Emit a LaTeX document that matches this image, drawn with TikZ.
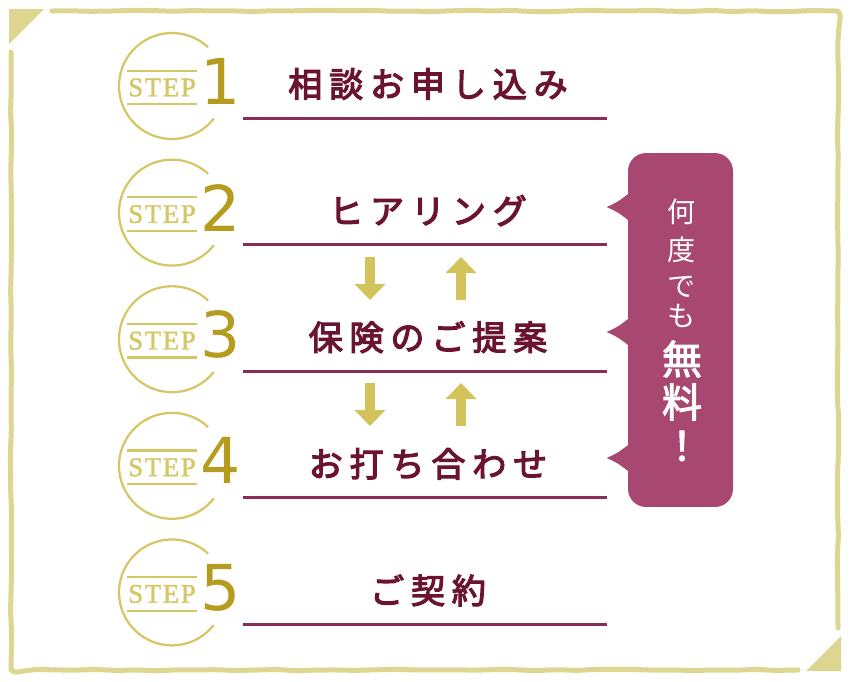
\documentclass[tikz,border=0pt]{standalone}
\usepackage{fontspec}
\newfontfamily\jpfont{Noto Sans CJK JP}
\newfontfamily\jpmed{Noto Sans CJK JP}[FakeBold=2.5]
\newfontfamily\jptitle{Noto Sans CJK JP}[LetterSpace=20,FakeBold=3.5]
\newfontfamily\stepfont{Liberation Serif}[LetterSpace=6,FakeBold=1.5]
\newfontfamily\numfont{DejaVu Sans}
\usetikzlibrary{arrows.meta,calc,decorations.pathmorphing}
\definecolor{framecol}{HTML}{DDD690}
\definecolor{stepcol}{HTML}{D5C766}
\definecolor{numcol}{HTML}{B59C1E}
\definecolor{arrowcol}{HTML}{D2C35A}
\definecolor{titlecol}{HTML}{6B1431}
\definecolor{linecol}{HTML}{8A2C55}
\definecolor{bubblecol}{HTML}{A8476F}

\begin{document}
\begin{tikzpicture}[x=0.02cm,y=-0.02cm,
  framestroke/.style={draw=framecol,line width=0.1cm,line cap=round,line join=round,
    decorate,decoration={random steps,segment length=0.4cm,amplitude=0.014cm},rounded corners=0.1cm},
  ring/.style={draw=stepcol,line width=0.045cm},
  steptext/.style={inner sep=0pt,minimum width=1.4cm,minimum height=0.66cm,text=stepcol,
    font=\stepfont\fontsize{15.3pt}{16pt}\selectfont},
  stepnum/.style={inner sep=0pt,text=numcol,font=\numfont\fontsize{36pt}{36pt}\selectfont},
  steptitle/.style={inner sep=0pt,text=titlecol,font=\jptitle\fontsize{19.4pt}{20pt}\selectfont},
  titlerule/.style={draw=linecol,line width=0.06cm},
  fat/.style={draw=arrowcol,line width=0.2cm,-{Triangle[width=0.6cm,length=0.32cm]}},
  bubble/.style={fill=bubblecol,rounded corners=0.36cm,minimum width=2.1cm,minimum height=7.08cm,inner sep=0pt},
  vtext/.style={inner sep=0pt,text=white,font=\jpfont\fontsize{#1}{#1}\selectfont}]
  \useasboundingbox (0,0) rectangle (851,681);

  % frame
  \pgfmathsetseed{7}
  \draw[framestroke] (52,11) -- (838,11) -- (838,628);
  \draw[framestroke] (11,52) -- (11,670) -- (798,670);
  \fill[framecol] (9,9) -- (44,9) -- (9,44) -- cycle;
  \fill[framecol] (806,671) -- (841,671) -- (841,636) -- cycle;

  % steps
  \foreach \n/\ttl in {1/相談お申し込み,2/ヒアリング,3/保険のご提案,4/お打ち合わせ,5/ご契約}{
    \pgfmathsetmacro\yy{84+126.6*(\n-1)}
    \draw[ring] (172,\yy+2) ++(47:1.06cm) arc[start angle=47,end angle=322,radius=1.06cm];
    \node[steptext] (st\n) at (162,\yy+3.5) {STEP};
    \draw[ring] (st\n.north west) -- (st\n.north east) (st\n.south west) -- (st\n.south east);
    \node[stepnum] (num\n) at (221,\yy-3) {\n};
    \node[steptitle] (ttl\n) at (428,\yy) {\ttl};
    \draw[titlerule] (243,\yy+34) -- (607,\yy+34);
  }

  % arrows between 2-3 and 3-4
  \foreach \k/\ya/\yb in {1/257/300,2/383/426}{
    \coordinate (dn\k-a) at (370,\ya);
    \coordinate (dn\k-b) at (370,\yb);
    \coordinate (up\k-a) at (461,\yb);
    \coordinate (up\k-b) at (461,\ya);
    \draw[fat] (dn\k-a) -- (dn\k-b);
    \draw[fat] (up\k-a) -- (up\k-b);
  }

  % speech bubble
  \node[bubble] (free) at (680.5,330) {};
  \foreach \py in {-123,2,128}
    \fill[bubblecol] ($(free.west)+(3,\py-15)$) .. controls ($(free.west)+(-10,\py-5)$) .. ($(free.west)+(-21,\py)$)
      .. controls ($(free.west)+(-10,\py+5)$) .. ($(free.west)+(3,\py+15)$) -- cycle;
  \foreach \ch/\py/\sz [count=\i] in {何/212/16pt,度/250/16pt,で/287/16pt,も/316/16pt,
      {\jpmed 無}/359/22.8pt,{\jpmed 料}/402/22.8pt,{\jpmed ！}/446/22.8pt}
    \node[vtext=\sz] (v\i) at (682,\py) {\ch};
\end{tikzpicture}
\end{document}
